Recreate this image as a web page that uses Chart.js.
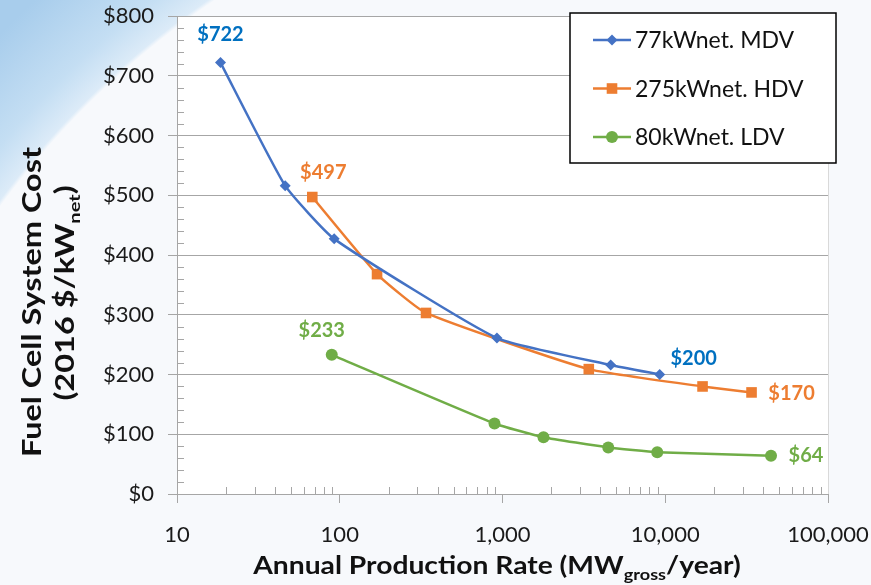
<!DOCTYPE html>
<html>
<head>
<meta charset="utf-8">
<script src="https://cdn.jsdelivr.net/npm/chart.js@4.4.0/dist/chart.umd.min.js"></script>
<style>
  html, body { margin: 0; padding: 0; }
  body {
    width: 871px; height: 585px; overflow: hidden;
    background:
      radial-gradient(circle at 700px 720px, #f7f9fc 0px, #f7f9fc 868px, #dcebf8 872px, #c4def3 905px, #a8cdec 980px);
  }
  #wrap { position: relative; width: 871px; height: 585px; }
</style>
</head>
<body>
<div id="wrap"><canvas id="costo"></canvas></div>
<script>
// production rate (MW gross / year) and cost ($/kW net)
const mdvX = [18.5, 46.2, 92.4, 924, 4620, 9240];
const mdvY = [722, 516, 427, 261, 216, 200];
const hdvX = [67.8, 169.5, 339, 3390, 16950, 33900];
const hdvY = [497, 368, 303, 209, 180, 170];
const ldvX = [89.3, 893, 1786, 4465, 8930, 44650];
const ldvY = [233, 118, 95, 78, 70, 64];
const seriesNames = ["77kWnet. MDV", "275kWnet. HDV", "80kWnet. LDV"];
const xTicks = [10, 100, 1000, 10000, 100000];
const yTicks = [0, 100, 200, 300, 400, 500, 600, 700, 800];

const colores = ["#4472C4", "#ED7D31", "#70AD47"];
const coloresEtiqueta = ["#0070C0", "#ED7D31", "#70AD47"];
const FUENTE = "Lato, 'Open Sans', sans-serif";

function puntos(xs, ys) {
  return xs.map((x, i) => ({ x: x, y: ys[i] }));
}

// where to put the "$" labels of the first and last point of each series
const desplaz = [
  { first: [0, -28], last: [34, -16] },
  { first: [11, -24], last: [40, 1] },
  { first: [-10, -24], last: [35, 0] },
];

function dibujarMarca(ctx, estilo, x, y, r) {
  ctx.beginPath();
  if (estilo === "rectRot") {
    ctx.moveTo(x, y - r); ctx.lineTo(x + r, y); ctx.lineTo(x, y + r); ctx.lineTo(x - r, y);
    ctx.closePath();
  } else if (estilo === "rect") {
    const s = r * Math.SQRT1_2;
    ctx.rect(x - s, y - s, 2 * s, 2 * s);
  } else {
    ctx.arc(x, y, r, 0, Math.PI * 2);
  }
  ctx.fill();
}

// bold text with subscript parts (MW_gross), stretched along its length
function textoRico(ctx, partes, size, x, y, estirar) {
  const chico = Math.round(size * 0.62);
  let ancho = 0;
  partes.forEach((p) => {
    ctx.font = "bold " + (p.sub ? chico : size) + "px " + FUENTE;
    p.w = ctx.measureText(p.t).width;
    ancho += p.w;
  });
  ctx.save();
  ctx.translate(x, y);
  ctx.scale(estirar, 1);
  let cx = -ancho / 2;
  partes.forEach((p) => {
    ctx.font = "bold " + (p.sub ? chico : size) + "px " + FUENTE;
    ctx.fillText(p.t, cx, p.sub ? size * 0.22 : 0);
    cx += p.w;
  });
  ctx.restore();
}

const pluginExcel = {
  id: "excelExtras",
  beforeDraw(chart) {
    const a = chart.chartArea;
    chart.ctx.save();
    chart.ctx.fillStyle = "#ffffff";
    chart.ctx.fillRect(a.left, a.top, a.right - a.left, a.bottom - a.top);
    chart.ctx.restore();
  },
  beforeDatasetsDraw(chart) {
    // minor tick marks (inside the plot)
    const ctx = chart.ctx;
    const xs = chart.scales.x, ys = chart.scales.y;
    const a = chart.chartArea;
    ctx.save();
    ctx.strokeStyle = "#a6a6a6";
    ctx.lineWidth = 1;
    ctx.beginPath();
    for (let v = 20; v < 800; v += 20) {
      if (v % 100 === 0) continue;
      const py = Math.round(ys.getPixelForValue(v)) + 0.5;
      ctx.moveTo(a.left, py); ctx.lineTo(a.left + 7, py);
    }
    for (let d = 10; d < 100000; d *= 10) {
      for (let k = 2; k <= 9; k++) {
        const px = Math.round(xs.getPixelForValue(d * k)) + 0.5;
        ctx.moveTo(px, a.bottom); ctx.lineTo(px, a.bottom - 7);
      }
    }
    ctx.stroke();
    // right edge of plot
    ctx.strokeStyle = "#d9d9d9";
    ctx.beginPath();
    ctx.moveTo(Math.round(a.right) + 0.5, a.top);
    ctx.lineTo(Math.round(a.right) + 0.5, a.bottom);
    ctx.stroke();
    ctx.restore();
  },
  afterDraw(chart) {
    const ctx = chart.ctx;
    ctx.save();

    // value labels on first and last points
    ctx.font = "bold 20px " + FUENTE;
    ctx.textAlign = "center";
    ctx.textBaseline = "middle";
    chart.data.datasets.forEach((ds, i) => {
      const meta = chart.getDatasetMeta(i);
      const n = meta.data.length;
      [["first", 0], ["last", n - 1]].forEach(([k, idx]) => {
        const el = meta.data[idx];
        const off = desplaz[i][k];
        ctx.fillStyle = coloresEtiqueta[i];
        ctx.fillText("$" + ds.data[idx].y, el.x + off[0], el.y + off[1]);
      });
    });

    // legend box
    const lx = 570, ly = 13, lw = 266, lh = 150;
    ctx.fillStyle = "#ffffff";
    ctx.fillRect(lx, ly, lw, lh);
    ctx.strokeStyle = "#000000";
    ctx.lineWidth = 1.5;
    ctx.strokeRect(lx, ly, lw, lh);
    ctx.textAlign = "left";
    ctx.font = "23px " + FUENTE;
    chart.data.datasets.forEach((ds, i) => {
      const y = 40 + i * 48.5;
      ctx.strokeStyle = colores[i];
      ctx.lineWidth = 2.5;
      ctx.beginPath(); ctx.moveTo(593, y); ctx.lineTo(631, y); ctx.stroke();
      ctx.fillStyle = colores[i];
      dibujarMarca(ctx, ds.pointStyle, 612, y, ds.pointRadius);
      ctx.fillStyle = "#111111";
      ctx.fillText(seriesNames[i], 635, y + 1);
    });

    // axis titles
    ctx.fillStyle = "#111111";
    ctx.textAlign = "left";
    ctx.textBaseline = "alphabetic";
    textoRico(ctx, [{ t: "Annual Production Rate (MW" }, { t: "gross", sub: true }, { t: "/year)" }], 25, 497, 574, 1.13);
    ctx.save();
    ctx.translate(41, 302);
    ctx.rotate(-Math.PI / 2);
    textoRico(ctx, [{ t: "Fuel Cell System Cost" }], 26, 0, 0, 1.25);
    ctx.restore();
    ctx.save();
    ctx.translate(74, 293);
    ctx.rotate(-Math.PI / 2);
    textoRico(ctx, [{ t: "(2016 $/kW" }, { t: "net", sub: true }, { t: ")" }], 26, 0, 0, 1.25);
    ctx.restore();

    ctx.restore();
  },
};

const ctx = document.getElementById("costo").getContext("2d");
const chart_costo = new Chart(ctx, {
  type: "line",
  data: {
    datasets: [
      {
        label: seriesNames[0],
        data: puntos(mdvX, mdvY),
        borderColor: colores[0],
        backgroundColor: colores[0],
        pointStyle: "rectRot",
        pointRadius: 5.5,
      },
      {
        label: seriesNames[1],
        data: puntos(hdvX, hdvY),
        borderColor: colores[1],
        backgroundColor: colores[1],
        pointStyle: "rect",
        pointRadius: 7.5,
      },
      {
        label: seriesNames[2],
        data: puntos(ldvX, ldvY),
        borderColor: colores[2],
        backgroundColor: colores[2],
        pointStyle: "circle",
        pointRadius: 6,
      },
    ],
  },
  options: {
    responsive: true,
    maintainAspectRatio: false,
    animation: false,
    layout: { padding: { left: 0, right: 43, top: 16, bottom: 0 } },
    elements: {
      line: { borderWidth: 2.5, tension: 0.15, fill: false },
      point: { borderWidth: 0, hoverRadius: 6 },
    },
    plugins: {
      legend: { display: false },
      title: { display: false },
      tooltip: { enabled: false },
    },
    scales: {
      x: {
        type: "logarithmic",
        min: 10,
        max: 100000,
        afterBuildTicks: (scale) => {
          scale.ticks = xTicks.map((v) => ({ value: v }));
        },
        afterFit: (scale) => {
          scale.height = 91;
          scale.paddingLeft = 0;
          scale.paddingRight = 0;
        },
        grid: {
          drawOnChartArea: false,
          color: "#a6a6a6",
          tickLength: 9,
        },
        border: { color: "#a6a6a6", width: 1 },
        ticks: {
          autoSkip: false,
          maxRotation: 0,
          padding: 19,
          color: "#1a1a1a",
          font: { family: FUENTE, size: 22 },
          callback: (v) => Number(v).toLocaleString("en-US"),
        },
      },
      y: {
        min: 0,
        max: 800,
        afterBuildTicks: (scale) => {
          scale.ticks = yTicks.map((v) => ({ value: v }));
        },
        afterFit: (scale) => {
          scale.width = 177;
          scale.paddingTop = 0;
          scale.paddingBottom = 0;
        },
        grid: {
          color: "#a6a6a6",
          tickLength: 9,
        },
        border: { color: "#a6a6a6", width: 1 },
        ticks: {
          padding: 14,
          color: "#1a1a1a",
          font: { family: FUENTE, size: 22 },
          callback: (v) => "$" + v,
        },
      },
    },
  },
  plugins: [pluginExcel],
});
</script>
</body>
</html>
